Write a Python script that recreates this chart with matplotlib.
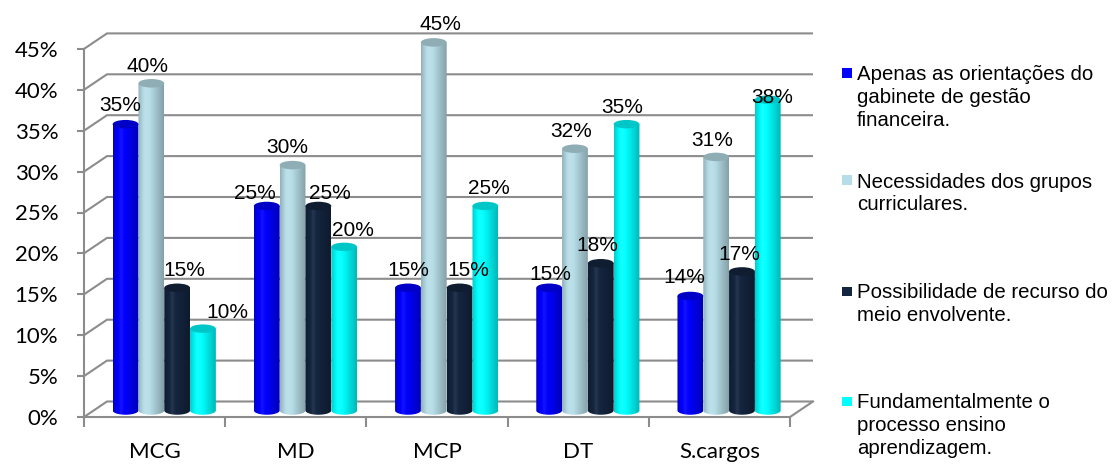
import numpy as np
import matplotlib
matplotlib.use("Agg")
import matplotlib.pyplot as plt
from matplotlib.path import Path
from matplotlib.patches import PathPatch, Ellipse, Rectangle
from matplotlib.colors import to_rgb

# ---- data -------------------------------------------------------------
categories = ["MCG", "MD", "MCP", "DT", "S.cargos"]
series_labels = [
    "Apenas as orientações do\ngabinete de gestão\nfinanceira.",
    "Necessidades dos grupos\ncurriculares.",
    "Possibilidade de recurso do\nmeio envolvente.",
    "Fundamentalmente o\nprocesso ensino\naprendizagem.",
]
apenas_orientacoes = [35, 25, 15, 15, 14]
necessidades_grupos = [40, 30, 45, 32, 31]
recurso_meio = [15, 25, 15, 18, 17]
processo_ensino = [10, 20, 25, 35, 38]
y_ticks = [0, 5, 10, 15, 20, 25, 30, 35, 40, 45]

series_values = [apenas_orientacoes, necessidades_grupos, recurso_meio, processo_ensino]
series_colors = ["#0000FF", "#B7DEE8", "#14253F", "#00FFFF"]

# per-label placement tweaks (pixels: horizontal shift, lift above the cap)
label_shift = [
    [(-5, 21), (-12, 14), (0, 19), (1, 15), (-6, 20)],
    [(-4, 19), (-5, 20), (7, 20), (-4, 19), (-4, 18)],
    [(7, 19), (12, 14), (9, 19), (-3, 20), (-3, 19)],
    [(24, 18), (9, 18), (4, 19), (-4, 19), (4, 4)],
]

# ---- layout -----------------------------------------------------------
W, H, DPI = 1118, 466, 100
fig = plt.figure(figsize=(W / DPI, H / DPI), dpi=DPI)

PX_CAT = 141.2      # pixels per category
PX_PCT = 8.18       # pixels per percentage point
X0_PX, Y0_PX = 84, 417
ax_l, ax_r, ax_t, ax_b = 84, 813, 26, 423
ax = fig.add_axes([ax_l / W, 1 - ax_b / H, (ax_r - ax_l) / W, (ax_b - ax_t) / H])
ax.set_xlim(0, (ax_r - X0_PX) / PX_CAT)
ax.set_ylim(-(ax_b - Y0_PX) / PX_PCT, (Y0_PX - ax_t) / PX_PCT)
ax.patch.set_visible(False)

n_cat = len(categories)
DX = 23 / PX_CAT          # depth offset of the back wall
DY = 15.5 / PX_PCT
GRID = "#8C8C8C"
LW = 1.5

# back wall grid + side wall diagonals
for v in y_ticks:
    ax.plot([0, DX, n_cat + DX], [v, v + DY, v + DY], color=GRID, lw=LW,
            clip_on=False, zorder=1, solid_joinstyle="miter", solid_capstyle="butt")
# right edge of the floor
ax.plot([n_cat, n_cat + DX], [0, DY], color=GRID, lw=LW, clip_on=False, zorder=1)

# front axes
for side in ("top", "right"):
    ax.spines[side].set_visible(False)
ax.spines["left"].set_bounds(0, max(y_ticks))
ax.spines["bottom"].set_position(("data", 0))
ax.spines["bottom"].set_bounds(0, n_cat)
for side in ("left", "bottom"):
    ax.spines[side].set_color(GRID)
    ax.spines[side].set_linewidth(LW)
    ax.spines[side].set_zorder(1)

ax.set_yticks(y_ticks)
ax.set_yticklabels([f"{t}%" for t in y_ticks])
ax.tick_params(axis="y", direction="out", length=5, width=LW, color=GRID,
               pad=13.5, labelsize=16, labelcolor="#000000")
ax.set_xticks(np.arange(n_cat + 1))
ax.set_xticklabels([])
ax.set_xticks(np.arange(n_cat) + 0.5, minor=True)
ax.set_xticklabels(categories, minor=True)
ax.tick_params(axis="x", which="major", direction="out", length=7, width=LW, color=GRID)
ax.tick_params(axis="x", which="minor", length=0, pad=18, labelsize=16,
               labelcolor="#000000")
for lab in ax.get_yticklabels() + ax.get_xticklabels(minor=True):
    lab.set_fontfamily("Lato")


def shade(color, f):
    c = np.array(to_rgb(color))
    if f <= 1:
        return c * f
    return c + (1 - c) * (f - 1)


def cylinder_gradient(color, n=64):
    t = np.linspace(0, 1, n)
    stops_t = [0.0, 0.3, 1.0]
    stops_f = [0.80, 1.08, 0.72]
    f = np.interp(t, stops_t, stops_f)
    return np.array([shade(color, fi) for fi in f])[None, :, :]


# cylinders
DEPTH = 0.42
BW = 25.8 / PX_CAT
EH = 8.5 / PX_PCT
base = DEPTH * DY
theta = np.linspace(np.pi, 2 * np.pi, 40)
n_ser = len(series_values)

for s, (vals, col) in enumerate(zip(series_values, series_colors)):
    grad = cylinder_gradient(col)
    top_col = shade(col, 0.78)
    for g, v in enumerate(vals):
        cx = g + 0.5 + DEPTH * DX + (s - (n_ser - 1) / 2) * BW
        x0, x1 = cx - BW / 2, cx + BW / 2
        top = base + v
        arc_x = cx + BW / 2 * np.cos(theta)
        arc_y = base + EH / 2 * np.sin(theta)
        verts = [(x0, top)] + list(zip(arc_x, arc_y)) + [(x1, top), (x0, top)]
        body = PathPatch(Path(verts, closed=True), facecolor="none",
                         edgecolor="none", transform=ax.transData)
        ax.add_patch(body)
        im = ax.imshow(grad, extent=[x0, x1, base - EH / 2, top], aspect="auto",
                       interpolation="bilinear", zorder=3 + s * 0.01, clip_on=True)
        im.set_clip_path(body)
        ax.add_patch(Ellipse((cx, top), BW, EH, facecolor=top_col,
                             edgecolor="none", zorder=3.5 + s * 0.01, clip_on=False))
        dx, lift = label_shift[s][g]
        ax.annotate(f"{v}%", xy=(cx, top), xytext=(dx, lift),
                    textcoords="offset pixels", ha="center", va="center_baseline",
                    fontsize=15, fontfamily="Liberation Sans", color="#000000",
                    zorder=10, annotation_clip=False)

ax.set_xlim(0, (ax_r - X0_PX) / PX_CAT)
ax.set_ylim(-(ax_b - Y0_PX) / PX_PCT, (Y0_PX - ax_t) / PX_PCT)

# legend
leg_first_line = [73, 180, 291, 401]
LINE_STEP = 22.7
for col, label, y_px in zip(series_colors, series_labels, leg_first_line):
    fig.add_artist(Rectangle(((842) / W, 1 - (y_px + 5) / H), 9.5 / W, 9.5 / H,
                             transform=fig.transFigure, facecolor=col,
                             edgecolor="none"))
    for i, line in enumerate(label.split("\n")):
        fig.text(857 / W, 1 - (y_px + i * LINE_STEP) / H, line,
                 ha="left", va="center_baseline", fontsize=14.7,
                 fontfamily="Liberation Sans", color="#000000")

fig.savefig("out.png", dpi=DPI, facecolor="white")
